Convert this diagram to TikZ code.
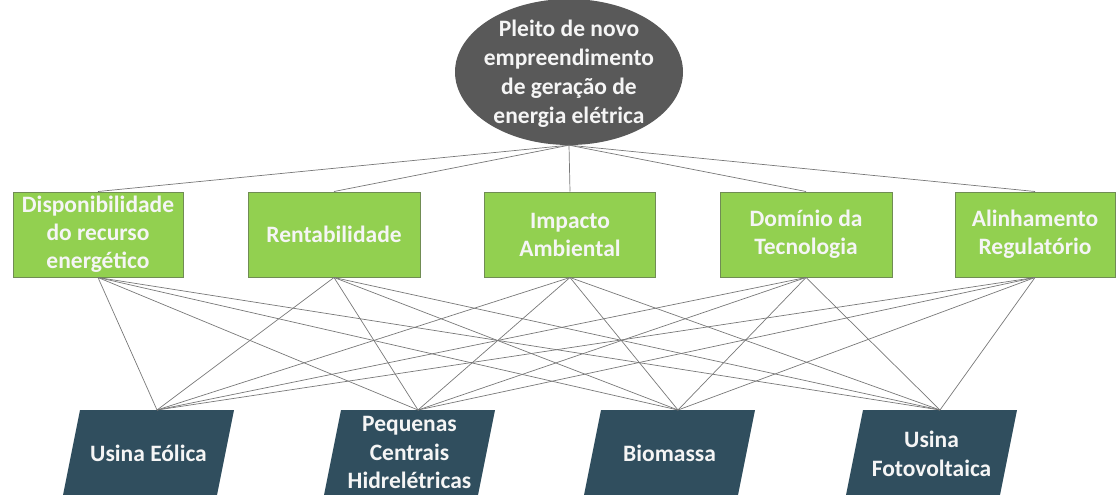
\documentclass[tikz,border=0pt]{standalone}
\usepackage{fontspec}
\setmainfont{Carlito}
\usetikzlibrary{shapes.geometric}
\definecolor{ellgray}{RGB}{89,89,89}
\definecolor{boxgreen}{RGB}{146,208,80}
\definecolor{boxedge}{RGB}{112,140,84}
\definecolor{slate}{RGB}{48,78,94}
\definecolor{linegray}{RGB}{120,120,120}
\definecolor{lighttext}{RGB}{245,245,245}
\begin{document}
\begin{tikzpicture}[x=1pt,y=-1pt,
  crit/.style={draw=boxedge, line width=1pt, fill=boxgreen, minimum height=85pt, inner sep=0pt, align=center, text=lighttext, font=\fontsize{23.5}{28}\selectfont\bfseries},
  goal/.style={ellipse, fill=ellgray, minimum width=228pt, minimum height=146pt, inner xsep=-30pt, inner ysep=-20pt, align=center, text=lighttext, font=\fontsize{23.5}{29}\selectfont\bfseries},
  alttext/.style={inner sep=0pt, align=center, text=lighttext, font=\fontsize{23.5}{28.5}\selectfont\bfseries},
  altshape/.style={fill=slate},
  link/.style={draw=linegray, line width=0.7pt}]
\useasboundingbox (0,0) rectangle (1119,495);
\node[goal] (g) at (569,72) {};
\node[inner sep=0pt, align=center, text=lighttext, font=\fontsize{23.5}{29}\selectfont\bfseries] (gt) at (569,74) {Pleito de novo\\empreendimento\\de geração de\\energia elétrica};
\node[crit, minimum width=170pt] (c1) at (98,234.5) {Disponibilidade\\do recurso\\energético};
\node[crit, minimum width=172pt] (c2) at (334,234.5) {Rentabilidade};
\node[crit, minimum width=171pt] (c3) at (570,234.5) {Impacto\\Ambiental};
\node[crit, minimum width=172pt] (c4) at (806,234.5) {Domínio da\\Tecnologia};
\node[crit, minimum width=160pt] (c5) at (1035,234.5) {Alinhamento\\Regulatório};
% alternatives: parallelograms, top centre at (t,410)
\foreach \t/\n in {157/1,418/2,678/3,940/4} {
  \fill[altshape] (\t-77,410) -- (\t+77,410) -- (\t+59.6,497) -- (\t-94.4,497) -- cycle;
  \coordinate (t\n) at (\t,410);
}
\node[alttext] (a1) at (148.5,453) {Usina Eólica};
\node[alttext] (a2) at (409.5,452.5) {Pequenas\\Centrais\\Hidrelétricas};
\node[alttext] (a3) at (669.5,453) {Biomassa};
\node[alttext] (a4) at (931.5,454) {Usina\\Fotovoltaica};
\foreach \i in {1,...,5} {
  \draw[link] (g.south) -- (c\i.north);
  \foreach \j in {1,...,4} {
    \draw[link] (c\i.south) -- (t\j);
  }
}
\end{tikzpicture}
\end{document}
